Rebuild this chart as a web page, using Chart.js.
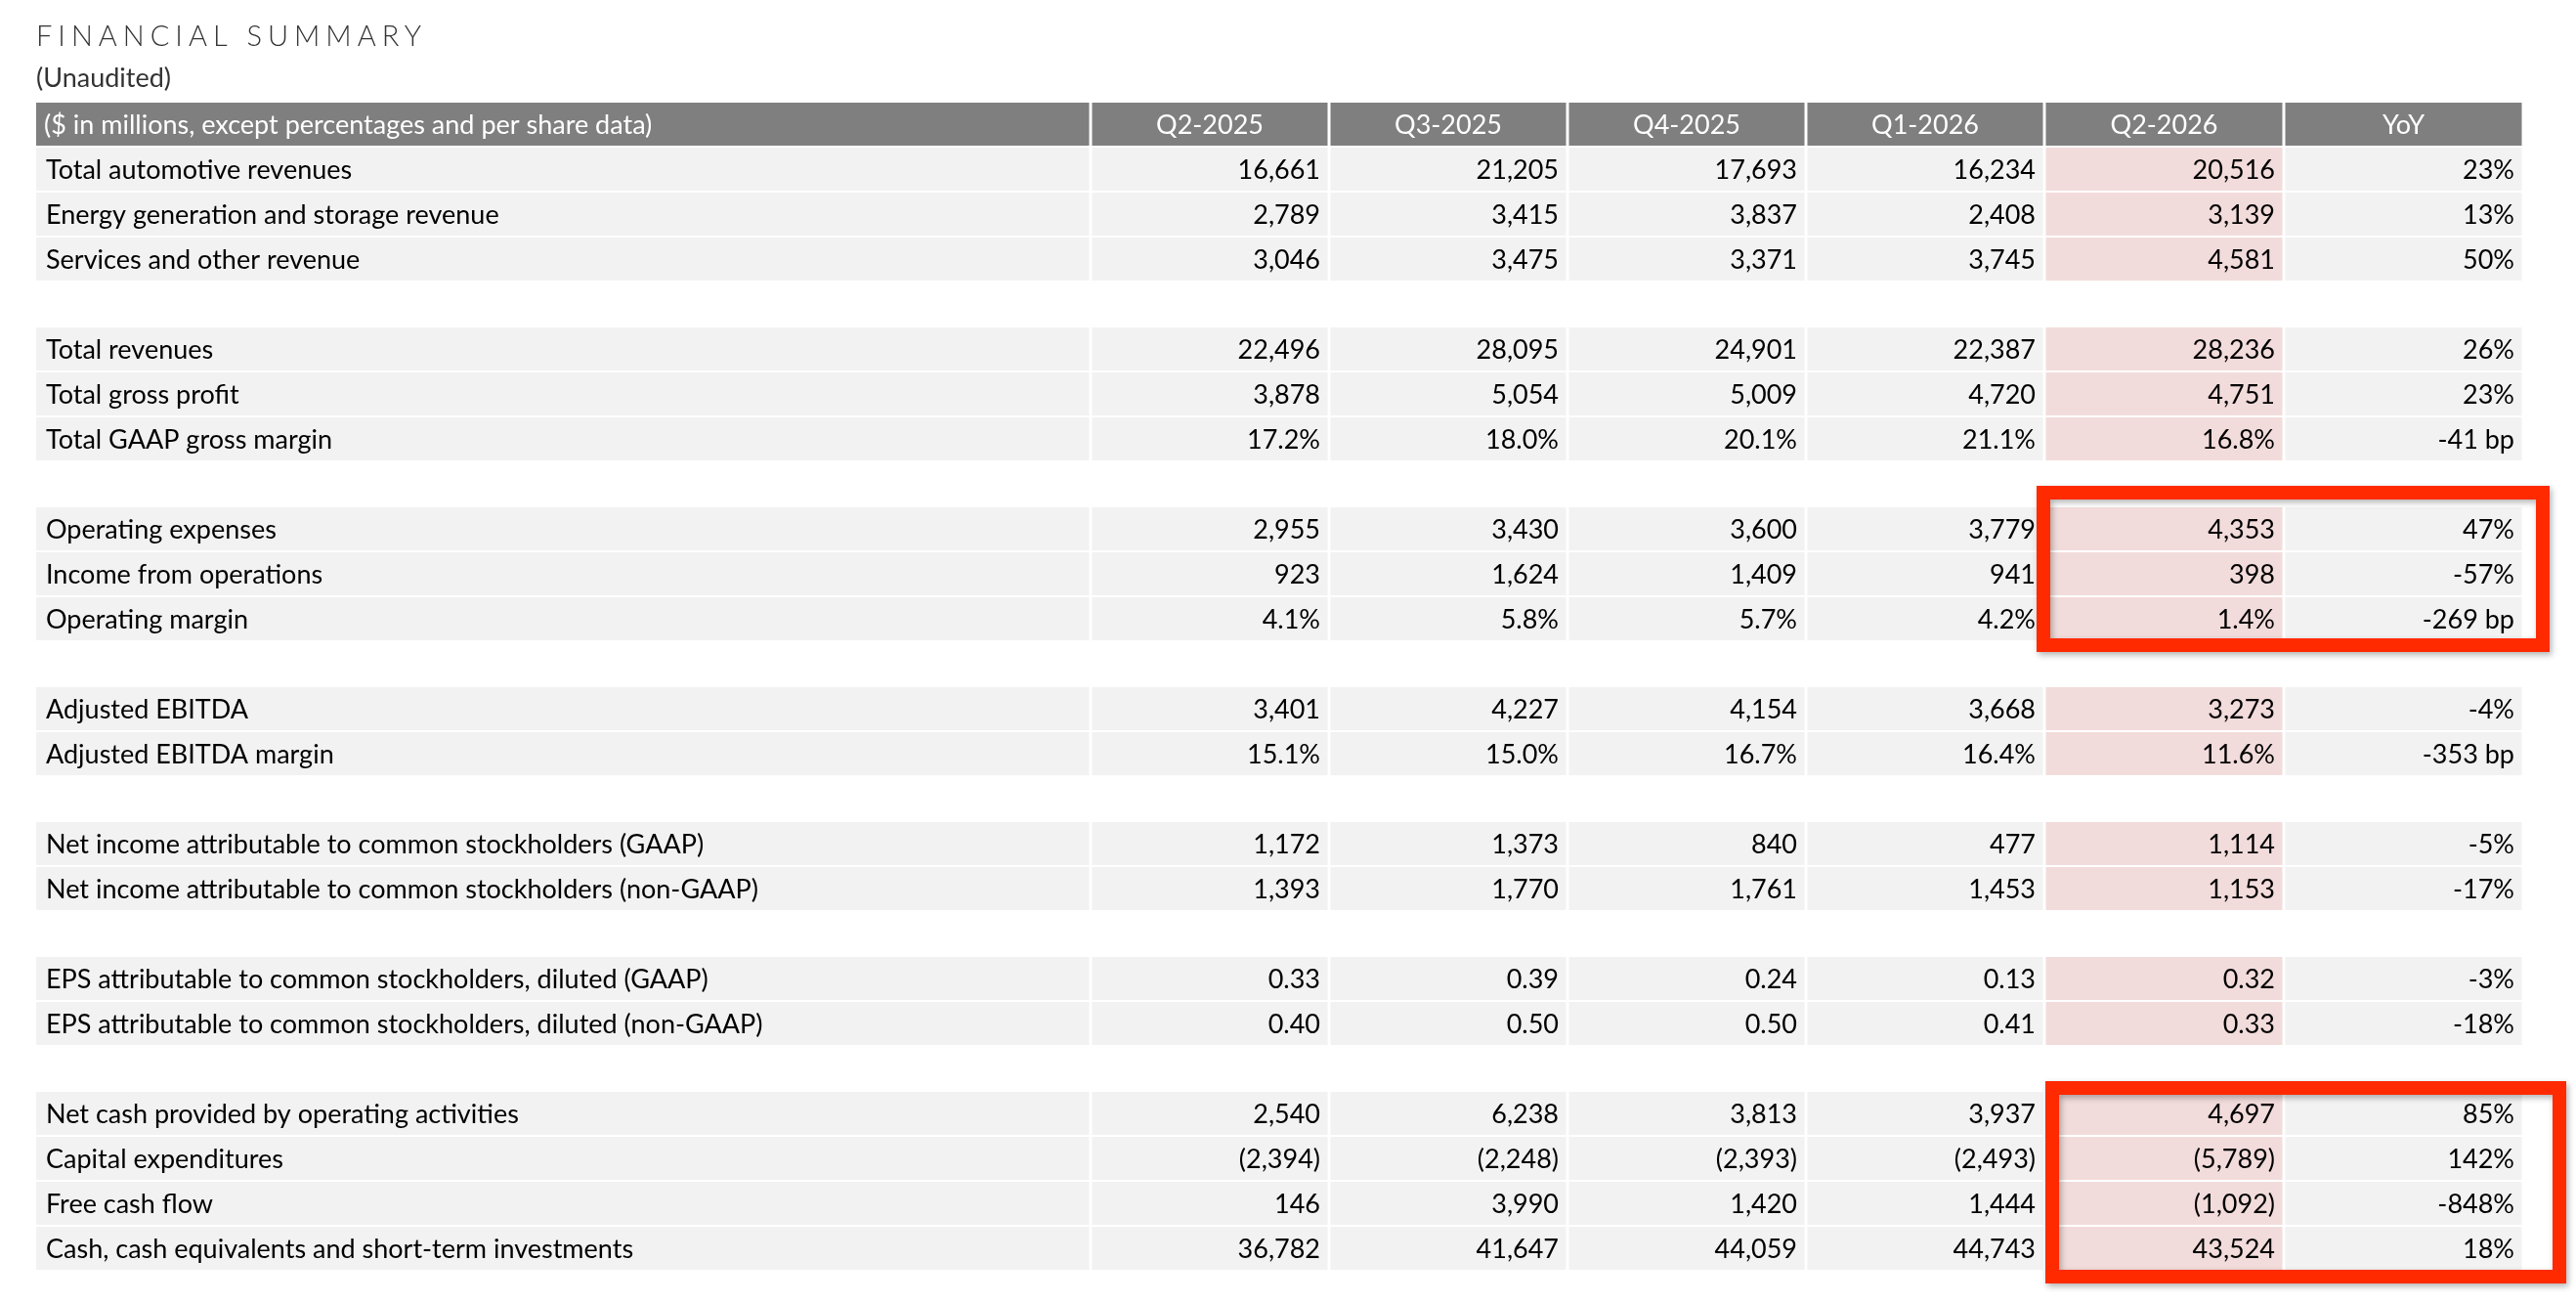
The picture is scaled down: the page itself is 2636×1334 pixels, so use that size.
<!DOCTYPE html>
<html><head><meta charset="utf-8">
<script src="https://cdn.jsdelivr.net/npm/chart.js"></script>
<style>html,body{margin:0;padding:0;background:#fff}#w{width:2636px;height:1334px}</style>
</head><body><div id="w"><canvas id="c"></canvas></div>
<script>
const columnHeaders = ["($ in millions, except percentages and per share data)","Q2-2025","Q3-2025","Q4-2025","Q1-2026","Q2-2026","YoY"];
const rowLabels = ["Total automotive revenues","Energy generation and storage revenue","Services and other revenue","",
"Total revenues","Total gross profit","Total GAAP gross margin","",
"Operating expenses","Income from operations","Operating margin","",
"Adjusted EBITDA","Adjusted EBITDA margin","",
"Net income attributable to common stockholders (GAAP)","Net income attributable to common stockholders (non-GAAP)","",
"EPS attributable to common stockholders, diluted (GAAP)","EPS attributable to common stockholders, diluted (non-GAAP)","",
"Net cash provided by operating activities","Capital expenditures","Free cash flow","Cash, cash equivalents and short-term investments"];
const q2_2025 = ["16,661","2,789","3,046","","22,496","3,878","17.2%","","2,955","923","4.1%","","3,401","15.1%","","1,172","1,393","","0.33","0.40","","2,540","(2,394)","146","36,782"];
const q3_2025 = ["21,205","3,415","3,475","","28,095","5,054","18.0%","","3,430","1,624","5.8%","","4,227","15.0%","","1,373","1,770","","0.39","0.50","","6,238","(2,248)","3,990","41,647"];
const q4_2025 = ["17,693","3,837","3,371","","24,901","5,009","20.1%","","3,600","1,409","5.7%","","4,154","16.7%","","840","1,761","","0.24","0.50","","3,813","(2,393)","1,420","44,059"];
const q1_2026 = ["16,234","2,408","3,745","","22,387","4,720","21.1%","","3,779","941","4.2%","","3,668","16.4%","","477","1,453","","0.13","0.41","","3,937","(2,493)","1,444","44,743"];
const q2_2026 = ["20,516","3,139","4,581","","28,236","4,751","16.8%","","4,353","398","1.4%","","3,273","11.6%","","1,114","1,153","","0.32","0.33","","4,697","(5,789)","(1,092)","43,524"];
const yoy = ["23%","13%","50%","","26%","23%","-41 bp","","47%","-57%","-269 bp","","-4%","-353 bp","","-5%","-17%","","-3%","-18%","","85%","142%","-848%","18%"];
const highlightGroups = [["Operating expenses","Operating margin"],["Net cash provided by operating activities","Cash, cash equivalents and short-term investments"]];

const slots = ["__header__"].concat(rowLabels);
const cols = [rowLabels,q2_2025,q3_2025,q4_2025,q1_2026,q2_2026,yoy];
const edges = [0,1079,1323,1567,1811,2055,2300,2545];
const FONT = "Lato, 'Open Sans', sans-serif";

const datasets = cols.map((col,ci)=>({
  data: slots.map((s,si)=> (si===0 || s!=="") ? [edges[ci]+(ci?1.5:0), edges[ci+1]-1.5] : null),
  backgroundColor: slots.map((s,si)=> si===0 ? '#7f7f7f' : (ci===5 ? '#f2dcdb' : '#f2f2f2')),
  borderWidth:0, grouped:false, barPercentage:0.955, categoryPercentage:1
}));

const textPlugin = {
  id:'txt',
  afterDatasetsDraw(chart){
    const {ctx,scales:{x,y}} = chart;
    ctx.save();
    ctx.textBaseline='middle';
    ctx.fillStyle='#333';
    ctx.font="300 29px "+FONT;
    ctx.letterSpacing='6px';
    ctx.fillText("FINANCIAL SUMMARY",37,38);
    ctx.letterSpacing='0px';
    ctx.font="27px "+FONT;
    ctx.fillText("(Unaudited)",37,80);
    slots.forEach((s,si)=>{
      const py = y.getPixelForValue(si)+1;
      if(si===0){
        ctx.fillStyle='#fff';
        columnHeaders.forEach((h,ci)=>{
          if(ci===0){ctx.textAlign='left';ctx.fillText(h,x.getPixelForValue(edges[0])+8,py);}
          else{ctx.textAlign='center';ctx.fillText(h,x.getPixelForValue((edges[ci]+edges[ci+1])/2),py);}
        });
        return;
      }
      if(s==="") return;
      ctx.fillStyle='#000';
      cols.forEach((col,ci)=>{
        if(ci===0){ctx.textAlign='left';ctx.fillText(col[si-1],x.getPixelForValue(edges[0])+10,py);}
        else{ctx.textAlign='right';ctx.fillText(col[si-1],x.getPixelForValue(edges[ci+1])-9,py);}
      });
    });
    ctx.restore();
  },
  afterDraw(chart){
    const {ctx,scales:{x,y}} = chart;
    const h = y.getPixelForValue(1)-y.getPixelForValue(0);
    const pads = [[-8,27,21,11],[1,44,10,13]];
    highlightGroups.forEach((g,gi)=>{
      const a = slots.indexOf(g[0]), b = slots.indexOf(g[1]);
      const p = pads[gi];
      const l = x.getPixelForValue(edges[5])+p[0]+7, r = x.getPixelForValue(edges[7])+p[1]-7;
      const t = y.getPixelForValue(a)-h/2-p[2]+7, bt = y.getPixelForValue(b)+h/2+p[3]-7;
      ctx.save();
      ctx.shadowColor='rgba(0,0,0,0.3)';ctx.shadowBlur=6;ctx.shadowOffsetX=2;ctx.shadowOffsetY=3;
      ctx.strokeStyle='#ff2a00';ctx.lineWidth=14;
      ctx.strokeRect(l,t,r-l,bt-t);
      ctx.restore();
    });
  }
};

new Chart(document.getElementById('c'),{
  type:'bar',
  data:{labels:slots,datasets},
  options:{
    indexAxis:'y',responsive:true,maintainAspectRatio:false,animation:false,
    layout:{padding:{left:37,right:54,top:104,bottom:34}},
    plugins:{legend:{display:false},tooltip:{enabled:false}},
    scales:{
      x:{type:'linear',min:0,max:2545,display:false},
      y:{type:'category',display:false,offset:true}
    }
  },
  plugins:[textPlugin]
});
</script></body></html>
